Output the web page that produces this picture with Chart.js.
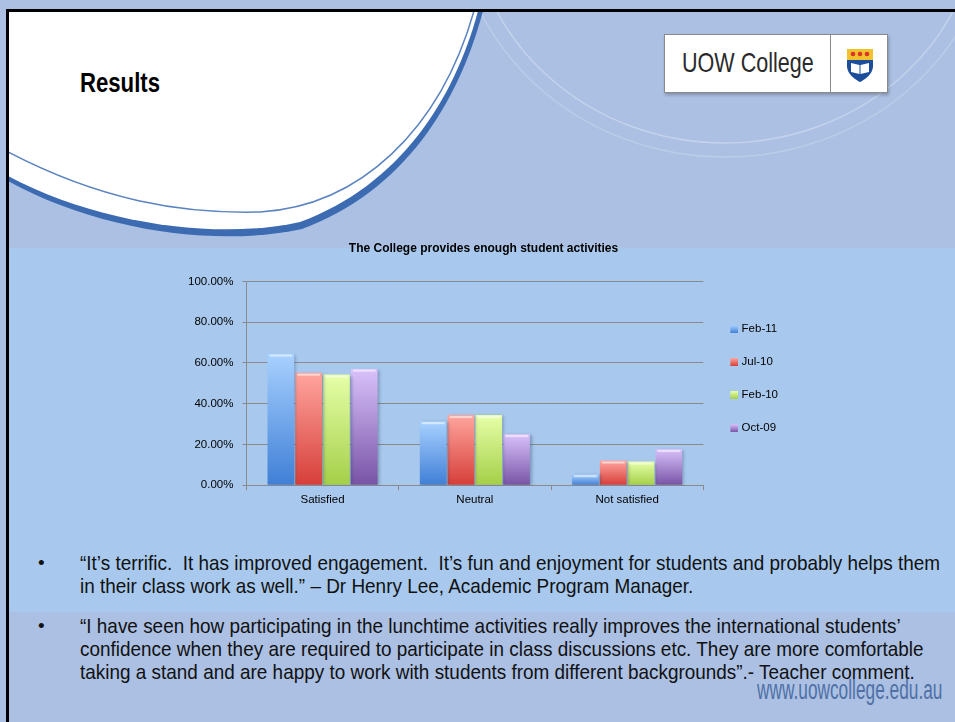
<!DOCTYPE html>
<html>
<head>
<meta charset="utf-8">
<script src="https://cdn.jsdelivr.net/npm/chart.js@4.4.0/dist/chart.umd.min.js"></script>
<style>
  html, body { margin: 0; padding: 0; }
  body {
    width: 955px; height: 722px; position: relative; overflow: hidden;
    background: #abc0e3;
    font-family: "Liberation Sans", Arial, sans-serif;
  }
  #deco { position: absolute; left: 0; top: 0; }
  #band { position: absolute; left: 8px; top: 248px; width: 947px; height: 364px; background: #a8c9ed; }
  .frame { position: absolute; background: #000; }
  .narrow { display: inline-block; transform-origin: 0 0; white-space: nowrap; }
  #results {
    position: absolute; left: 80px; top: 70px; font: bold 27px/27px "Liberation Sans", Arial, sans-serif;
    color: #000; transform: scaleX(0.82);
  }
  #logo {
    position: absolute; left: 664px; top: 34px; width: 222px; height: 57px;
    background: #fff; border: 1px solid #8a8a8a; box-shadow: 1px 2px 3px rgba(0,0,0,0.25);
  }
  #logo .name {
    position: absolute; left: 17px; top: 13px; font: 28px/30px "Liberation Sans", Arial, sans-serif;
    color: #2a2a2a; transform: scaleX(0.77);
  }
  #logo .div { position: absolute; left: 165px; top: 0; width: 1px; height: 57px; background: #8a8a8a; }
  #logo svg { position: absolute; left: 180px; top: 12px; }
  .quote {
    position: absolute; left: 80px; font: 21px/23px "Liberation Sans", Arial, sans-serif; color: #111;
  }
  .dot { position: absolute; left: 38px; font: 19px/23px "Liberation Sans", Arial, sans-serif; color: #111; }
  #url {
    position: absolute; left: 757px; top: 677px; font: 27px/26px "Liberation Sans", Arial, sans-serif;
    color: #4f70a5; transform: scaleX(0.64);
  }
  #chart { position: absolute; left: 171px; top: 236px; }
</style>
</head>
<body>
<svg id="deco" width="955" height="722">
  <defs>
    <clipPath id="slide"><rect x="8" y="11" width="947" height="237"/></clipPath>
  </defs>
  <g clip-path="url(#slide)">
    <ellipse cx="725" cy="-95" rx="255" ry="238" fill="none" stroke="rgba(255,255,255,0.3)" stroke-width="1.5"/>
    <ellipse cx="725" cy="-95" rx="270" ry="252" fill="none" stroke="rgba(255,255,255,0.2)" stroke-width="1.5"/>
    <path d="M8 11 L483 11 C458 104 404 191 302 229 C220 247 100 232 8 181 Z" fill="#3c6bb2"/>
    <path d="M8 11 L478 11 C454 100 400 185 300 222 C220 240 100 225 8 176 Z" fill="#ffffff"/>
    <path d="M8 152 C100 200 180 214 260 212 C360 206 440 130 474 11" fill="none" stroke="#5c84c0" stroke-width="1.5"/>
  </g>
</svg>
<div id="band"></div>
<div class="frame" style="left:6px; top:9px; width:949px; height:3px;"></div>
<div class="frame" style="left:6px; top:9px; width:3px; height:713px;"></div>

<div id="results" class="narrow">Results</div>

<div id="logo">
  <span class="name narrow">UOW College</span>
  <div class="div"></div>
  <svg width="30" height="36" viewBox="0 0 30 36">
    <path d="M2 2 H28 V19 C28 29 15 35 15 35 C15 35 2 29 2 19 Z" fill="#1d4e9b"/>
    <path d="M2 2 H28 V13 H2 Z" fill="#f3c12e"/>
    <circle cx="8" cy="7" r="2.3" fill="#d8352a"/>
    <circle cx="15" cy="7" r="2.3" fill="#d8352a"/>
    <circle cx="22" cy="7" r="2.3" fill="#d8352a"/>
    <path d="M6 16 L14.5 18 V27 L6 25 Z M24 16 L15.5 18 V27 L24 25 Z" fill="#ffffff"/>
  </svg>
</div>

<canvas id="chart" width="627" height="278"></canvas>

<div class="dot" style="top:551px;">•</div>
<div id="q1" class="quote narrow" style="top:551px;">“It’s terrific.&nbsp; It has improved engagement.&nbsp; It’s fun and enjoyment for students and probably helps them<br>in their class work as well.” – Dr Henry Lee, Academic Program Manager.</div>
<div class="dot" style="top:614px;">•</div>
<div id="q2" class="quote narrow" style="top:614px;">“I have seen how participating in the lunchtime activities really improves the international students’<br>confidence when they are required to participate in class discussions etc. They are more comfortable<br>taking a stand and are happy to work with students from different backgrounds”.- Teacher comment.</div>

<div id="url" class="narrow">www.uowcollege.edu.au</div>

<script>
const categories = ['Satisfied', 'Neutral', 'Not satisfied'];
const seriesNames = ['Feb-11', 'Jul-10', 'Feb-10', 'Oct-09'];
const feb11 = [64.6, 31.4, 5.4];
const jul10 = [55.2, 34.4, 12.1];
const feb10 = [54.3, 34.4, 11.6];
const oct09 = [57.2, 25.1, 17.8];
const yTicks = [0, 20, 40, 60, 80, 100];

// top colour, bottom colour
const palette = [
    ['#a8d1ff', '#3f7fd6'],
    ['#ffa59e', '#d63e39'],
    ['#e6ffa8', '#a4cf48'],
    ['#d9c2fb', '#7853a6'],
];

// squeeze the quotes to the narrow face of the slide
const q1 = document.getElementById('q1');
const squeeze = 860 / q1.scrollWidth;
document.querySelectorAll('.quote').forEach(q => { q.style.transform = 'scaleX(' + squeeze + ')'; });

Chart.defaults.font.family = '"Liberation Sans", Arial, sans-serif';
Chart.defaults.font.size = 11.5;
Chart.defaults.color = '#000';

function barFill(i) {
    return function(ctx) {
        const chart = ctx.chart;
        if (!chart.chartArea || ctx.raw === undefined) return palette[i][1];
        const y = chart.scales.y;
        const top = y.getPixelForValue(ctx.raw);
        const bottom = y.getPixelForValue(0);
        const g = chart.ctx.createLinearGradient(0, top, 0, bottom);
        g.addColorStop(0, palette[i][0]);
        g.addColorStop(1, palette[i][1]);
        return g;
    };
}

function legendMarker(i) {
    const c = document.createElement('canvas');
    c.width = 16;
    c.height = 8;
    const x = c.getContext('2d');
    const g = x.createLinearGradient(0, 0, 0, 8);
    g.addColorStop(0, palette[i][0]);
    g.addColorStop(1, palette[i][1]);
    x.fillStyle = g;
    x.fillRect(8, 0, 8, 8);
    return c;
}

// soft shadow and the light cap on top of each bar
const barLook = {
    id: 'barLook',
    beforeDatasetsDraw(chart) {
        const ctx = chart.ctx;
        ctx.save();
        ctx.shadowColor = 'rgba(40, 60, 90, 0.35)';
        ctx.shadowBlur = 3;
        ctx.shadowOffsetX = 2;
        ctx.shadowOffsetY = 1;
    },
    afterDatasetsDraw(chart) {
        const ctx = chart.ctx;
        ctx.restore();
        ctx.save();
        ctx.fillStyle = 'rgba(255, 255, 255, 0.55)';
        chart.data.datasets.forEach((ds, i) => {
            chart.getDatasetMeta(i).data.forEach(bar => {
                const left = bar.x - bar.width / 2;
                ctx.fillRect(left + 2, bar.y + 1, bar.width - 4, 2);
            });
        });
        ctx.restore();
    }
};

const seriesValues = [feb11, jul10, feb10, oct09];

new Chart(document.getElementById('chart'), {
    type: 'bar',
    data: {
        labels: categories,
        datasets: seriesNames.map((name, i) => ({
            label: name,
            data: seriesValues[i],
            backgroundColor: barFill(i),
            borderWidth: 0,
            categoryPercentage: 0.73,
            barPercentage: 0.96,
        }))
    },
    plugins: [barLook],
    options: {
        responsive: false,
        animation: false,
        layout: {
            padding: { left: 8, right: 10, top: 0, bottom: 4 }
        },
        plugins: {
            title: {
                display: true,
                text: 'The College provides enough student activities',
                color: '#000',
                font: { size: 12, weight: 'bold' },
                padding: { top: 5, bottom: 26 },
            },
            legend: {
                position: 'right',
                title: {
                    display: true,
                    text: '',
                    font: { size: 10, lineHeight: 1.12 },
                    padding: 0,
                },
                labels: {
                    usePointStyle: true,
                    pointStyleWidth: 11,
                    padding: 21.5,
                    color: '#000',
                    font: { size: 11.5 },
                    generateLabels: chart => chart.data.datasets.map((ds, i) => ({
                        text: ds.label,
                        pointStyle: legendMarker(i),
                        fillStyle: palette[i][1],
                        strokeStyle: 'transparent',
                        lineWidth: 0,
                        hidden: false,
                        datasetIndex: i,
                        fontColor: '#000',
                    }))
                }
            },
            tooltip: { enabled: false }
        },
        scales: {
            x: {
                grid: {
                    drawOnChartArea: false,
                    drawTicks: true,
                    tickLength: 5,
                    color: '#8a8a8a',
                },
                border: { color: '#8a8a8a' },
                ticks: { padding: 3, color: '#000' }
            },
            y: {
                min: yTicks[0],
                max: yTicks[yTicks.length - 1],
                afterBuildTicks: axis => { axis.ticks = yTicks.map(v => ({ value: v })); },
                grid: {
                    color: '#8a8a8a',
                    tickLength: 4,
                },
                border: { color: '#8a8a8a' },
                ticks: {
                    padding: 9,
                    color: '#000',
                    callback: v => v.toFixed(2) + '%'
                }
            }
        }
    }
});
</script>
</body>
</html>
